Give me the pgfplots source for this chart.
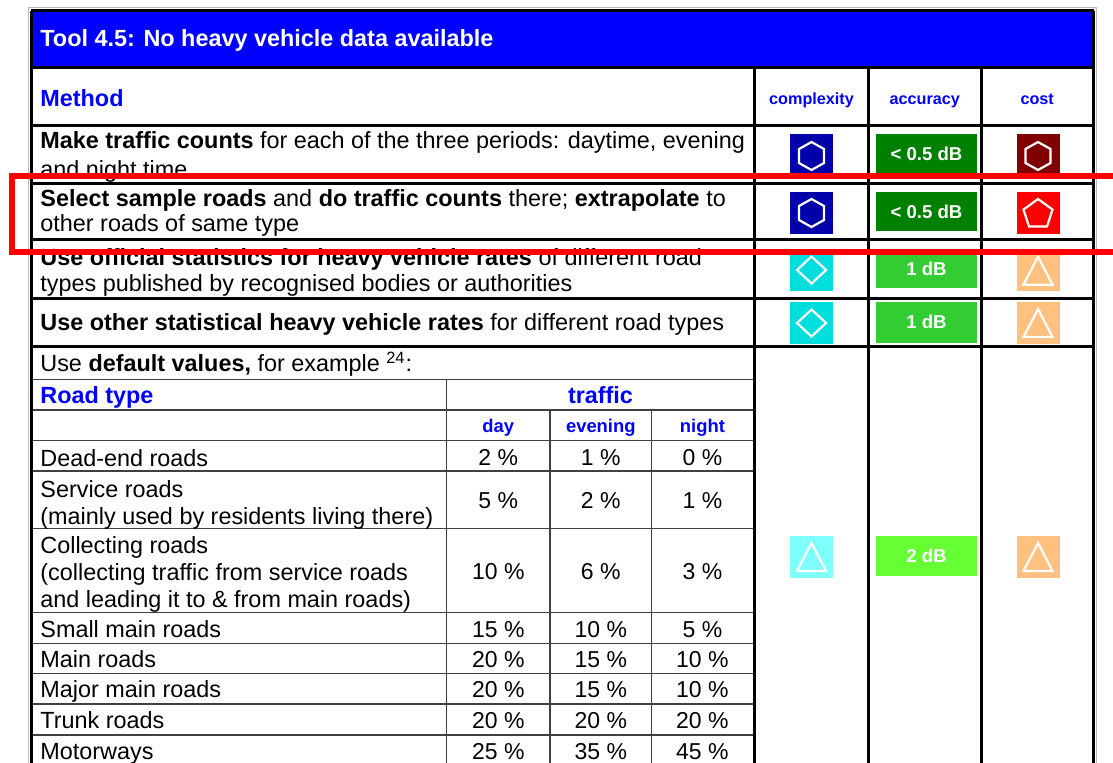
\documentclass[border=0pt]{standalone}
\usepackage{pgfplots}
\pgfplotsset{compat=1.18}
\usepackage{pgfplotstable}
\usepackage{fontspec}
\setmainfont{Liberation Sans}
\definecolor{hblue}{RGB}{0,0,255}
\definecolor{cdark}{RGB}{0,0,170}
\definecolor{cmaroon}{RGB}{128,0,0}
\definecolor{cred}{RGB}{255,0,0}
\definecolor{cgreen}{RGB}{0,128,0}
\definecolor{ccyan}{RGB}{0,221,221}
\definecolor{clgreen}{RGB}{51,204,51}
\definecolor{cpeach}{RGB}{255,192,128}
\definecolor{clcyan}{RGB}{128,255,255}
\definecolor{cbgreen}{RGB}{102,255,51}
\newcommand\bodyf{\fontsize{11.7}{14}\selectfont}
\newcommand\titlef{\fontsize{11.7}{14}\selectfont\bfseries}
\newcommand\headf{\fontsize{8.1}{10}\selectfont\bfseries}
\newcommand\subf{\fontsize{9.2}{11}\selectfont\bfseries}
\newcommand\boxf{\fontsize{9.3}{11}\selectfont\bfseries}
\newcommand\pctf{\fontsize{11.5}{13}\selectfont}
% icon helpers (pixel coordinates, y downwards)
\newcommand{\sqbox}[3]{\fill[#1] (axis cs:{#2-21.5},{#3-21}) rectangle (axis cs:{#2+21.5},{#3+21});}
\newcommand{\accbox}[4]{\fill[#1] (axis cs:876,#2) rectangle (axis cs:977,#3);
  \node[font=\boxf, text=white, anchor=center] at (axis cs:926.5,{(#2+#3)/2}) {#4};}
\newcommand{\hexa}[2]{\draw[white, line width=1.1pt] (axis cs:#1,{#2-14}) -- (axis cs:{#1-12.5},{#2-7}) -- (axis cs:{#1-12.5},{#2+7}) -- (axis cs:#1,{#2+14}) -- (axis cs:{#1+12.5},{#2+7}) -- (axis cs:{#1+12.5},{#2-7}) -- cycle;}
\newcommand{\diam}[2]{\draw[white, line width=1.1pt] (axis cs:#1,{#2-13.5}) -- (axis cs:{#1-14.5},#2) -- (axis cs:#1,{#2+13.5}) -- (axis cs:{#1+14.5},#2) -- cycle;}
\newcommand{\tri}[2]{\draw[white, line width=1.1pt] (axis cs:#1,{#2-14}) -- (axis cs:{#1-14.5},{#2+14}) -- (axis cs:{#1+14.5},{#2+14}) -- cycle;}
\newcommand{\penta}[2]{\draw[white, line width=1.1pt] (axis cs:#1,{#2-15.25}) -- (axis cs:{#1-14.5},{#2-4.7}) -- (axis cs:{#1-8.96},{#2+12.34}) -- (axis cs:{#1+8.96},{#2+12.34}) -- (axis cs:{#1+14.5},{#2-4.7}) -- cycle;}
\newcommand{\txt}[3][]{\node[anchor=base west, font=\bodyf, inner sep=0pt, #1] at (axis cs:40,#2) {#3};}

\pgfplotstableread{
y day eve night
457.5 2 1 0
501 5 2 1
572 10 6 3
629.5 15 10 5
659.5 20 15 10
690 20 15 10
721 20 20 20
752 25 35 45
}\pcttable

\begin{document}
\begin{tikzpicture}
\begin{axis}[
  x=0.5pt, y=0.5pt, y dir=reverse,
  xmin=0, xmax=1113, ymin=0, ymax=762,
  axis lines=none, clip=true,
  every node near coord/.style={font=\pctf, text=black, anchor=center, inner sep=0pt},
]
\coordinate (bbA) at (axis cs:0,0);
\coordinate (bbB) at (axis cs:1113,762);
% outer light frame
\draw[gray!55, line width=0.5pt] (axis cs:28,7.5) rectangle (axis cs:1096.5,820);
% title bar
\fill[hblue] (axis cs:31,10.5) rectangle (axis cs:1093.5,67.5);
% thin inner grid
\begin{scope}[black!75, line width=0.6pt]
\foreach \yy in {379.5,410,440.7,471,528.5,612.7,643.3,673.3,704,735}{
  \edef\tmp{\noexpand\draw (axis cs:31,\yy) -- (axis cs:754.5,\yy);}\tmp
}
\draw (axis cs:446.7,379.5) -- (axis cs:446.7,800);
\draw (axis cs:550,410) -- (axis cs:550,800);
\draw (axis cs:651.7,410) -- (axis cs:651.7,800);
\end{scope}
% thick main grid
\begin{scope}[black, line width=1.5pt]
\draw (axis cs:31,10.5) -- (axis cs:1093.5,10.5);
\draw (axis cs:31,67.5) -- (axis cs:1093.5,67.5);
\foreach \yy in {125.8,183,239.5,298.3,346.7}{
  \edef\tmp{\noexpand\draw (axis cs:31,\yy) -- (axis cs:1093.5,\yy);}\tmp
}
\draw (axis cs:31,10.5) -- (axis cs:31,800);
\draw (axis cs:1093.5,10.5) -- (axis cs:1093.5,800);
\draw (axis cs:754.5,67.5) -- (axis cs:754.5,800);
\draw (axis cs:868.5,67.5) -- (axis cs:868.5,800);
\draw (axis cs:981,67.5) -- (axis cs:981,800);
\end{scope}
% title and headers
\node[anchor=base west, font=\titlef, text=white, inner sep=0pt] at (axis cs:40,46.7) {Tool 4.5: No heavy vehicle data available};
\node[anchor=base west, font=\bodyf\bfseries, text=hblue, inner sep=0pt] at (axis cs:40,106) {Method};
\node[anchor=base, font=\headf, text=hblue, inner sep=0pt] at (axis cs:811.5,104) {complexity};
\node[anchor=base, font=\headf, text=hblue, inner sep=0pt] at (axis cs:924.7,104) {accuracy};
\node[anchor=base, font=\headf, text=hblue, inner sep=0pt] at (axis cs:1037.2,104) {cost};
% method rows
\txt{148.3}{\textbf{Make traffic counts} for each of the three periods: daytime, evening}
\txt{177}{and night time}
\txt{206.7}{\textbf{Select sample roads} and \textbf{do traffic counts} there; \textbf{extrapolate} to}
\txt{231.7}{other roads of same type}
\txt{265.5}{\textbf{Use official statistics for heavy vehicle rates} of different road}
\txt{291.5}{types published by recognised bodies or authorities}
\txt{330}{\textbf{Use other statistical heavy vehicle rates} for different road types}
\txt{371.7}{Use \textbf{default values,} for example \textsuperscript{24}:}
\txt[text=hblue]{403.3}{\textbf{Road type}}
\node[anchor=base, font=\bodyf\bfseries, text=hblue, inner sep=0pt] at (axis cs:600.5,403.3) {traffic};
\node[anchor=base, font=\subf, text=hblue, inner sep=0pt] at (axis cs:498.3,432.5) {day};
\node[anchor=base, font=\subf, text=hblue, inner sep=0pt] at (axis cs:600.8,432.5) {evening};
\node[anchor=base, font=\subf, text=hblue, inner sep=0pt] at (axis cs:702.4,432.5) {night};
% road types
\txt{466}{Dead-end roads}
\txt{497}{Service roads}
\txt{524.5}{(mainly used by residents living there)}
\txt{553}{Collecting roads}
\txt{580}{(collecting traffic from service roads}
\txt{607}{and leading it to \& from main roads)}
\txt{637}{Small main roads}
\txt{667}{Main roads}
\txt{697}{Major main roads}
\txt{728}{Trunk roads}
\txt{759}{Motorways}
% percentages from table
\addplot[only marks, mark=*, mark size=0pt, mark options={draw=none,fill=none},
  nodes near coords={\pgfplotspointmeta~\%}, point meta=explicit symbolic]
  table[x expr=498.3, y=y, meta=day] {\pcttable};
\addplot[only marks, mark=*, mark size=0pt, mark options={draw=none,fill=none},
  nodes near coords={\pgfplotspointmeta~\%}, point meta=explicit symbolic]
  table[x expr=600.8, y=y, meta=eve] {\pcttable};
\addplot[only marks, mark=*, mark size=0pt, mark options={draw=none,fill=none},
  nodes near coords={\pgfplotspointmeta~\%}, point meta=explicit symbolic]
  table[x expr=702.4, y=y, meta=night] {\pcttable};
% icons row 1
\sqbox{cdark}{811.5}{155}\hexa{811.5}{156}
\accbox{cgreen}{134}{173}{< 0.5 dB}
\sqbox{cmaroon}{1038}{155}\hexa{1038}{156}
% row 2
\sqbox{cdark}{811.5}{212.5}\hexa{811.5}{213}
\accbox{cgreen}{192}{231}{< 0.5 dB}
\sqbox{cred}{1038}{212.5}\penta{1038}{214.25}
% row 3
\sqbox{ccyan}{811.5}{270}\diam{811.5}{270}
\accbox{clgreen}{249}{288}{1 dB}
\sqbox{cpeach}{1038}{270}\tri{1038}{270.7}
% row 4
\sqbox{ccyan}{811.5}{322.5}\diam{811.5}{323}
\accbox{clgreen}{302}{342.5}{1 dB}
\sqbox{cpeach}{1038}{322.5}\tri{1038}{323}
% last row
\sqbox{clcyan}{811.5}{557}\tri{811.5}{557}
\accbox{cbgreen}{536}{576}{2 dB}
\sqbox{cpeach}{1038}{557}\tri{1038}{557}
% red highlight box
\draw[cred, line width=3pt] (axis cs:1140,175.5) -- (axis cs:11.7,175.5) -- (axis cs:11.7,251.5) -- (axis cs:1140,251.5);
\end{axis}
\pgfresetboundingbox
\path[use as bounding box] (bbA) rectangle (bbB);
\end{tikzpicture}
\end{document}
